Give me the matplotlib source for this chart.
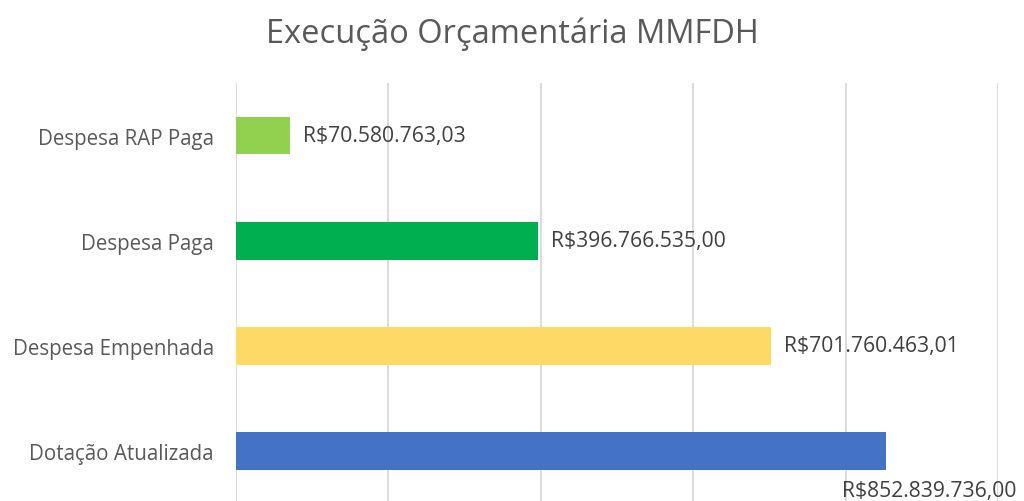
import matplotlib
matplotlib.use("Agg")
import matplotlib.pyplot as plt

categories = ["Dotação Atualizada", "Despesa Empenhada", "Despesa Paga", "Despesa RAP Paga"]
values = [852839736.00, 701760463.01, 396766535.00, 70580763.03]
labels = ["R$852.839.736,00", "R$701.760.463,01", "R$396.766.535,00", "R$70.580.763,03"]
colors = ["#4472C4", "#FFD966", "#00B050", "#92D050"]

plt.rcParams['font.family'] = ['Open Sans', 'DejaVu Sans']

fig = plt.figure(figsize=(10.24, 5.02), dpi=100)
ax = fig.add_axes([236/1024, (502-504.5)/502, (998-236)/1024, (504.5-84)/502])
ypos = list(range(len(categories)))
ax.barh(ypos, values, height=0.36, color=colors, zorder=2)
ax.set_xlim(0, 1e9)
ax.set_ylim(-0.5, 3.5)
ax.set_xticks([i * 2e8 for i in range(6)])
ax.set_xticklabels([])
ax.tick_params(axis='x', length=0)
ax.tick_params(axis='y', length=0, pad=16)
ax.set_yticks(ypos)
ax.set_yticklabels(categories, fontsize=14.8, color="#595959")
ax.grid(axis='x', color="#D9D9D9", linewidth=1.3, zorder=0)
for s in ax.spines.values():
    s.set_visible(False)

for i, (v, lab) in enumerate(zip(values, labels)):
    if i == 0:
        ax.text(v - 57e6, i - 0.38, lab, ha='left', va='center', fontsize=15.2, color="#404040", clip_on=False)
    else:
        ax.text(v + 17e6, i, lab, ha='left', va='center', fontsize=15.2, color="#404040")

fig.text(0.5, 1 - 34/502, "Execução Orçamentária MMFDH", ha='center', va='center', fontsize=23.5, color="#595959")
fig.savefig("out.png", dpi=100)
